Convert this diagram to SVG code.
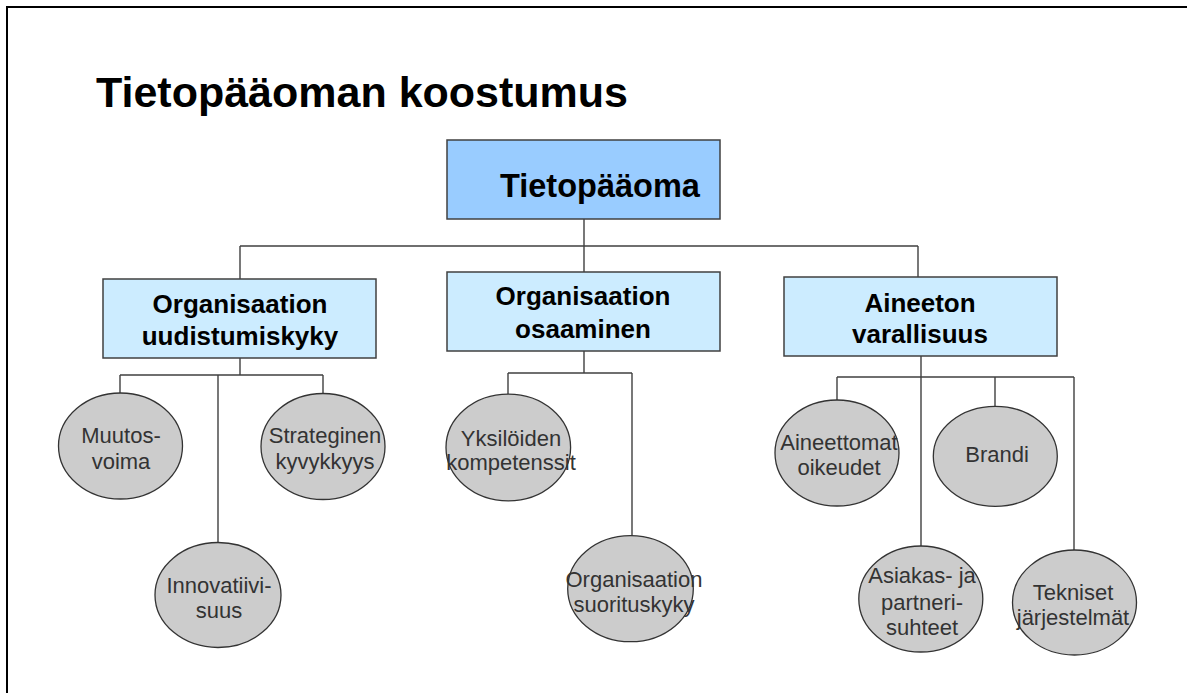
<svg xmlns="http://www.w3.org/2000/svg" width="1187" height="693" viewBox="0 0 1187 693">
<style>
.frame{fill:#fff;stroke:#000;stroke-width:2}
.title{font-family:"Liberation Sans",Arial,sans-serif;font-weight:bold;font-size:43px;fill:#000}
.top{fill:#99CCFF;stroke:#404040;stroke-width:1.5}
.box{fill:#CCECFF;stroke:#404040;stroke-width:1.5}
.ell{fill:#CCCCCC;stroke:#333;stroke-width:1.3}
.bt{font-family:"Liberation Sans",Arial,sans-serif;font-weight:bold;font-size:26px;fill:#000;text-anchor:middle}
.tt{font-family:"Liberation Sans",Arial,sans-serif;font-weight:bold;font-size:32.5px;fill:#000}
.et{font-family:"Liberation Sans",Arial,sans-serif;font-size:22px;fill:#333;text-anchor:middle}
.con{fill:none;stroke:#404040;stroke-width:1.4}
</style>
<rect x="0" y="0" width="1187" height="693" fill="#fff"/>
<rect class="frame" x="7" y="7" width="1190" height="700"/>
<text class="title" x="96" y="107">Tietopääoman koostumus</text>
<g id="connectors">
<path class="con" d="M584 219V272M240 246H918M240 246V279M918 246V277"/>
<path class="con" d="M240 358V375M120 375H323M120 375V393M218 375V543M323 375V393"/>
<path class="con" d="M584 351V373M508 373H632M508 373V394M632 373V536"/>
<path class="con" d="M921 356V546M837 377H1074M837 377V400M995 377V407M1074 377V550"/>
</g>
<g id="n-root"><rect class="top" x="447" y="140" width="273" height="79"/><text class="tt" x="500" y="197">Tietopääoma</text></g>
<g id="n-uud"><rect class="box" x="103" y="279" width="273" height="79"/><text class="bt" x="240" y="313">Organisaation</text><text class="bt" x="240" y="345">uudistumiskyky</text></g>
<g id="n-osa"><rect class="box" x="447" y="272" width="273" height="79"/><text class="bt" x="583" y="305">Organisaation</text><text class="bt" x="583" y="338">osaaminen</text></g>
<g id="n-ain"><rect class="box" x="784" y="277" width="273" height="79"/><text class="bt" x="920" y="312">Aineeton</text><text class="bt" x="920" y="343">varallisuus</text></g>
<g id="n-muutos"><ellipse class="ell" cx="120.5" cy="446" rx="62" ry="53"/><text class="et" x="121" y="443">Muutos-</text><text class="et" x="121" y="469">voima</text></g>
<g id="n-strat"><ellipse class="ell" cx="323" cy="446.5" rx="62" ry="53"/><text class="et" x="325" y="443">Strateginen</text><text class="et" x="325" y="469">kyvykkyys</text></g>
<g id="n-innov"><ellipse class="ell" cx="218" cy="595" rx="63" ry="52.5"/><text class="et" x="219" y="593">Innovatiivi-</text><text class="et" x="219" y="618">suus</text></g>
<g id="n-yks"><ellipse class="ell" cx="508.3" cy="447.5" rx="62.3" ry="53.3"/><text class="et" x="511" y="446">Yksilöiden</text><text class="et" x="511" y="470">kompetenssit</text></g>
<g id="n-suor"><ellipse class="ell" cx="630.5" cy="588.7" rx="62.8" ry="53"/><text class="et" x="634" y="587">Organisaation</text><text class="et" x="634" y="612">suorituskyky</text></g>
<g id="n-aoik"><ellipse class="ell" cx="837" cy="453" rx="62" ry="53"/><text class="et" x="839" y="450">Aineettomat</text><text class="et" x="839" y="475">oikeudet</text></g>
<g id="n-brandi"><ellipse class="ell" cx="995.3" cy="456.3" rx="62" ry="50"/><text class="et" x="997" y="462">Brandi</text></g>
<g id="n-asiakas"><ellipse class="ell" cx="920.8" cy="599" rx="62" ry="53"/><text class="et" x="922" y="583">Asiakas- ja</text><text class="et" x="922" y="610">partneri-</text><text class="et" x="922" y="635">suhteet</text></g>
<g id="n-tek"><ellipse class="ell" cx="1074.5" cy="602.5" rx="62" ry="52.5"/><text class="et" x="1073" y="600">Tekniset</text><text class="et" x="1073" y="625">järjestelmät</text></g>
</svg>
